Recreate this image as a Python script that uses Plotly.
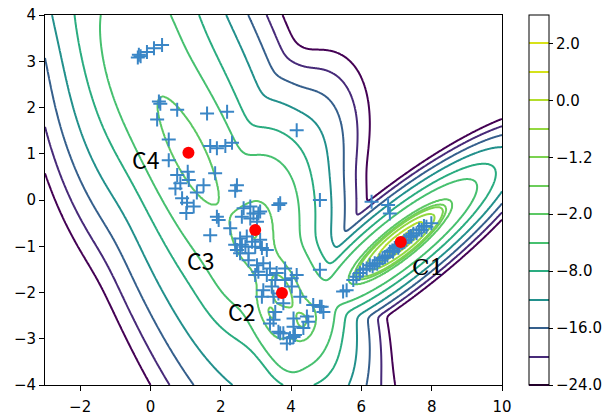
import numpy as np
import plotly.graph_objects as go

# ---- cluster centres (red dots) and labels ----
center_names = ["C1", "C2", "C3", "C4"]
center_x = [7.12, 3.74, 2.98, 1.08]
center_y = [-0.91, -2.01, -0.65, 1.02]
label_x = [7.89, 2.60, 1.42, -0.13]
label_y = [-1.44, -2.41, -1.29, 0.89]

# ---- contour levels and colorbar ----
levels = [-24.0, -20.0, -16.0, -12.0, -8.0, -5.0, -2.0, -1.45, -1.2, -0.6, 0.0, 1.0, 2.0]
level_colors = ["#440154", "#482677", "#39568c", "#23898e", "#20a486", "#3dbc74",
                "#52c569", "#63cb5f", "#70cf57", "#80d34d", "#9bd93c", "#b8de29", "#d8e219"]
cbar_tickvals = [0, 2, 4, 6, 8, 10, 12]
cbar_ticktext = ["\u221224.0", "\u221216.0", "\u22128.0", "\u22122.0", "\u22121.2", "0.0", "2.0"]

# ---- contour crossings: x, y, level value, weight ----
crossings = [
    # bottom edge and the -8 trough
    (-0.06, -3.98, -24, 1), (0.55, -3.98, -20, 1), (1.30, -3.98, -16, 1), (2.70, -3.98, -12, 1),
    (5.70, -3.98, -12, 1), (6.20, -3.98, -16, 1), (6.57, -3.98, -20, 1), (6.90, -3.98, -24, 1),
    (3.12, -3.46, -8, 1), (5.20, -3.46, -8, 1), (4.50, -3.95, -8, 1),
    # left band of lines
    (-2.93, 0.36, -24, 1), (-1.54, -1.73, -24, 1), (-2.46, 0.43, -20, 1), (0.52, -3.96, -20, 1),
    (-0.97, -1.77, -20, 1), (-1.99, 0.43, -16, 1), (1.28, -3.96, -16, 1), (-0.36, -1.77, -16, 1),
    (-1.37, 0.43, -12, 1), (2.65, -3.96, -12, 1), (0.64, -1.77, -12, 1),
    (-0.62, 0.43, -8, 1), (0.85, -2.45, -8, 1), (2.55, -3.60, -8, 1),
    (0.62, 0.43, -5, 1), (1.42, -0.94, -5, 1), (2.36, -1.95, -5, 1), (2.93, -2.74, -5, 1), (3.50, -3.46, -5, 1),
    (-1.50, 3.98, -5, 0.6), (-1.22, 2.66, -5, 0.6), (-0.48, 1.36, -5, 0.6), (-2.47, 3.98, -8, 0.6),
    (-2.98, 0.55, -24, 1.5), (-2.98, 1.55, -20, 1.2), (-2.98, 2.90, -16, 1.0), (-2.98, 3.90, -12, 0.4),
    # top edge
    (3.77, 3.98, -24, 0.6), (3.35, 3.98, -20, 0.6), (2.84, 3.98, -16, 0.6), (2.07, 3.98, -12, 0.6),
    (1.33, 3.98, -8, 0.6),
    # V between the band and C1
    (6.22, 0.25, -24, 1), (6.20, 1.00, -24, 0.8), (6.15, 2.31, -24, 0.8), (5.87, 2.87, -24, 0.8),
    (4.26, 3.18, -24, 0.8), (5.87, 1.00, -20, 0.8), (5.44, 1.00, -16, 0.8), (4.90, 1.00, -12, 0.8),
    (4.26, 1.00, -8, 0.8), (3.77, 1.00, -5, 0.8),
    (5.67, -0.22, -20, 0.7), (5.34, -0.65, -16, 0.7), (5.10, -1.00, -12, 0.7), (8.10, 1.00, -24, 0.5),
    # right edge and lower right
    (9.98, 1.77, -24, 0.8), (9.98, 1.56, -20, 0.8), (9.98, 1.36, -16, 0.8), (9.98, 1.08, -12, 0.8),
    (9.98, 0.71, -8, 0.8), (9.98, 0.37, -8, 0.5), (9.98, 0.15, -12, 0.4), (9.98, -0.05, -16, 0.4),
    (9.98, -0.20, -20, 0.4), (9.98, -0.35, -24, 0.4),
    (6.80, -2.75, -24, 0.8), (6.45, -2.80, -20, 0.7), (6.19, -2.72, -16, 0.7), (5.96, -2.45, -12, 0.7),
    # the -2 outline around C4, C3 and C2
    (3.69, 0.36, -2, 1), (3.12, 0.43, -2, 1), (2.55, 0.14, -2, 1), (2.27, 0.04, -2, 1), (3.83, 0.07, -2, 1),
    (3.78, -0.43, -2, 1), (3.97, -1.01, -2, 1), (4.26, -1.51, -2, 1), (4.63, -2.16, -2, 1), (4.73, -2.59, -2, 1),
    (4.63, -3.03, -2, 1), (4.26, -3.17, -2, 1), (3.78, -3.10, -2, 1), (3.40, -2.96, -2, 1), (3.12, -2.59, -2, 1),
    (2.93, -2.16, -2, 1), (2.55, -1.66, -2, 1), (2.13, -1.37, -2, 1), (1.89, -0.72, -2, 1), (1.23, -0.25, -2, 1),
    (0.66, 0.43, -2, 1), (0.38, 1.01, -2, 1), (0.14, 1.73, -2, 1), (0.14, 2.23, -2, 1), (0.38, 2.41, -2, 1),
    (0.94, 2.23, -2, 1), (1.42, 1.73, -2, 1), (1.89, 0.79, -2, 1),
    # peaks and inner rings
    (1.08, 1.02, -1.62, 1.5), (2.98, -0.65, -1.62, 1.0), (3.74, -2.01, -1.32, 1.5),
    (4.07, -2.43, -1.45, 1), (3.41, -1.57, -1.45, 1), (3.94, -1.85, -1.45, 1), (3.54, -2.15, -1.45, 1),
    (8.69, 0.07, -2, 1), (5.55, -1.89, -2, 1), (6.88, -0.52, -2, 1), (7.36, -1.30, -2, 1),
    (7.71, -0.54, 0, 0.6), (6.53, -1.28, 0, 0.6), (7.06, -0.81, 0, 0.6), (7.18, -1.01, 0, 0.6),
    (7.12, -0.91, 2.4, 1),
]
tgt_x = [c[0] for c in crossings]
tgt_y = [c[1] for c in crossings]
tgt_level = [c[2] for c in crossings]
tgt_w = [c[3] for c in crossings]

# ---- starting mixture components (x, y, angle, sigma1, sigma2, peak) ----
comp_mx = [1.08, 1.08, -0.10, 2.98, 3.74, 3.60, 7.12, 7.12, 3.90, 5.20]
comp_my = [1.02, 1.02, 3.40, -0.65, -2.01, 0.60, -0.91, -0.91, -2.30, -2.60]
comp_angle = [-55.0, -54.0, 10.0, -70.0, -58.0, 80.0, 31.0, 28.0, -55.0, 60.0]
comp_s1 = [1.76, 1.60, 0.95, 0.90, 0.80, 0.90, 0.25, 1.25, 1.00, 0.60]
comp_s2 = [0.57, 0.50, 0.60, 0.50, 0.45, 0.50, 0.06, 0.28, 0.55, 0.40]
comp_peak = [-4.2, -1.6, -3.8, -2.0, -1.35, -5.5, 2.3, -0.9, -3.5, -6.0]
comp_pos_weight = [0.3, 5, 0.3, 5, 5, 0.3, 5, 5, 0.3, 0.3]

lv = np.array(levels, dtype=float)
lidx = np.arange(len(lv), dtype=float)


def to_index(z):
    zi = np.interp(z, lv, lidx)
    zi = np.where(z < lv[0], (z - lv[0]) / (lv[1] - lv[0]), zi)
    zi = np.where(z > lv[-1], lidx[-1] + (z - lv[-1]) / (lv[-1] - lv[-2]), zi)
    return zi


def surface(P, x, y):
    mx, my, ang, ls1, ls2, pk = [P[:, k][:, None] for k in range(6)]
    dx, dy = x[None, :] - mx, y[None, :] - my
    c, s = np.cos(ang), np.sin(ang)
    t = dx * c + dy * s
    n = -dx * s + dy * c
    terms = pk - 0.5 * ((t / np.exp(ls1)) ** 2 + (n / np.exp(ls2)) ** 2)
    m = terms.max(axis=0)
    return m + np.log(np.exp(terms - m).sum(axis=0))


K = len(comp_mx)
theta0 = np.column_stack([comp_mx, comp_my, np.deg2rad(comp_angle), np.log(comp_s1),
                          np.log(comp_s2), comp_peak]).ravel()
pw = np.column_stack([comp_pos_weight, comp_pos_weight, [0.6] * K, [0.4] * K, [0.4] * K,
                      [0.15] * K]).ravel()
tx, ty = np.array(tgt_x), np.array(tgt_y)
tix = to_index(np.array(tgt_level, dtype=float))
tw = np.array(tgt_w, dtype=float)


def residual(theta):
    z = surface(theta.reshape(K, 6), tx, ty)
    return np.concatenate([(to_index(z) - tix) * tw, (theta - theta0) * pw])


theta = theta0.copy()
r = residual(theta)
cost = r @ r
lam = 1e-2
for it in range(200):
    J = np.empty((r.size, theta.size))
    for j in range(theta.size):
        th2 = theta.copy()
        th2[j] += 1e-5
        J[:, j] = (residual(th2) - r) / 1e-5
    g = J.T @ r
    H = J.T @ J
    ok = False
    while lam < 1e9:
        step = np.linalg.solve(H + lam * np.diag(np.diag(H) + 1e-9), -g)
        rn = residual(theta + step)
        cn = rn @ rn
        if cn < cost:
            theta, r, cost = theta + step, rn, cn
            lam = max(lam / 3, 1e-7)
            ok = True
            break
        lam *= 4
    if not ok:
        break
params = theta.reshape(K, 6)

# ---- observations ----
pts_x = [-0.36, -0.33, -0.28, -0.10, 0.10, 0.33,
         0.24, 0.28, 0.76, 0.19, 1.61, 2.18, 4.16, 0.52, 1.70, 1.89, 2.13, 2.32, 0.52, 1.84,
         0.76, 1.06, 1.09, 0.85, 0.71, 1.51, 1.32, 2.46, 2.41, 0.90, 1.04, 3.69, 1.02, 2.65,
         2.93, 3.12, 1.89, 4.82, 6.29, 6.76, 6.81, 1.23, 1.94, 2.27, 1.70, 2.84, 3.07, 2.60,
         2.84, 3.03, 3.64,
         2.55, 2.74, 2.60, 2.46, 2.70, 2.89, 3.12, 2.98, 3.17, 3.31, 2.79, 2.55, 2.41,
         2.79, 3.03, 3.21, 3.40, 3.07, 2.98, 3.31, 3.59, 3.83, 3.55, 3.83, 4.02, 4.16, 4.26,
         4.02, 3.21, 3.45, 3.64, 3.17, 3.50, 3.78, 4.63, 4.82, 4.92, 4.45, 4.49, 4.35, 4.07,
         3.78, 3.97, 4.11, 3.64, 3.50, 4.07, 3.55, 3.40, 3.69, 3.88, 4.07,
         4.82, 5.48, 5.58, 4.87,
         5.77, 5.86, 5.96, 6.05, 6.15, 6.24, 6.38, 6.52, 6.67, 6.81, 6.95, 7.09, 7.28, 7.42,
         7.57, 7.71, 7.85, 7.99, 6.45, 6.60, 6.74, 6.88, 7.02, 7.16, 7.22, 7.35, 7.48, 7.64,
         7.78, 6.32, 6.90, 7.05, 7.40]
pts_y = [3.08, 3.14, 3.11, 3.20, 3.28, 3.35,
         2.13, 2.08, 1.95, 1.74, 1.87, 1.91, 1.51, 1.31, 1.17, 1.12, 1.17, 1.24, 0.86, 0.58,
         0.54, 0.61, 0.43, 0.36, 0.25, 0.32, 0.16, 0.32, 0.20, 0.04, -0.06, -0.07, -0.28, -0.18,
         -0.29, -0.25, -0.36, 0.00, -0.04, -0.11, -0.29, -0.14, -0.43, -0.61, -0.76, -0.14, -0.29, -0.36,
         -0.40, -0.47, -0.11,
         -0.83, -0.79, -0.97, -1.08, -1.01, -0.90, -0.86, -1.01, -1.04, -1.08, -1.15, -1.15, -0.97,
         -1.30, -1.41, -1.37, -1.48, -1.55, -1.62, -1.62, -1.58, -1.48, -1.73, -1.73, -1.69, -1.62, -2.09,
         -1.87, -1.95, -1.87, -2.02, -2.09, -2.09, -2.23, -2.27, -2.31, -2.42, -2.52, -2.63, -2.77, -2.74,
         -2.88, -2.99, -2.92, -2.85, -2.59, -2.56, -2.42, -2.67, -2.88, -3.10, -2.96,
         -1.51, -1.98, -1.95, -2.31,
         -1.73, -1.66, -1.58, -1.51, -1.48, -1.41, -1.37, -1.30, -1.23, -1.12, -1.04, -0.97, -0.86, -0.79,
         -0.72, -0.65, -0.58, -0.50, -1.38, -1.26, -1.20, -1.09, -1.00, -0.93, -0.88, -0.80, -0.73, -0.64,
         -0.56, -1.43, -1.12, -1.03, -0.78]

# ---- surface on grid ----
xs = np.linspace(-3, 10, 651)
ys = np.linspace(-4, 4, 401)
X, Y = np.meshgrid(xs, ys)
Z = surface(params, X.ravel(), Y.ravel()).reshape(X.shape)
ZI = to_index(Z)

nlev = len(lv)
cscale = [[i / nlev, c] for i, c in enumerate(level_colors)] + [[1.0, level_colors[-1]]]

fig = go.Figure()
fig.add_trace(go.Contour(
    x=xs, y=ys, z=ZI,
    contours=dict(start=0, end=nlev - 1, size=1, coloring="lines", showlabels=False),
    line=dict(width=2),
    colorscale=cscale, zmin=0, zmax=nlev, zauto=False,
    colorbar=dict(
        thickness=20, thicknessmode="pixels", len=1, lenmode="fraction",
        x=1.059, xanchor="left", y=0.5, yanchor="middle", xpad=0, ypad=0,
        outlinecolor="black", outlinewidth=1,
        tickmode="array", tickvals=cbar_tickvals, ticktext=cbar_ticktext,
        ticks="outside", ticklen=4, tickwidth=1, tickcolor="black",
        tickfont=dict(family="DejaVu Sans", size=15, color="black"),
    ),
    hoverinfo="skip",
))
fig.add_trace(go.Scatter(
    x=pts_x, y=pts_y, mode="markers",
    marker=dict(symbol="cross-thin", size=10, line=dict(width=2, color="#3a86c6")),
    showlegend=False, hoverinfo="skip",
))
fig.add_trace(go.Scatter(
    x=center_x, y=center_y, mode="markers",
    marker=dict(symbol="circle", size=12, color="#ff0000"),
    showlegend=False, hoverinfo="skip",
))
for i, name in enumerate(center_names):
    fam = "DejaVu Serif" if name == "C1" else "Noto Sans CJK SC"
    fig.add_annotation(x=label_x[i], y=label_y[i], text=name, showarrow=False,
                       font=dict(family=fam, size=23, color="black"),
                       xanchor="center", yanchor="middle")

axis_common = dict(showgrid=False, zeroline=False, showline=True, mirror=True,
                   linecolor="black", linewidth=1, ticks="outside", ticklen=5,
                   tickcolor="black", ticklabeloverflow="allow",
                   tickfont=dict(family="DejaVu Sans", size=15, color="black"))
fig.update_xaxes(range=[-3, 10], tickvals=[-2, 0, 2, 4, 6, 8, 10], ticklabelstandoff=3,
                 ticktext=["\u22122", "0", "2", "4", "6", "8", "10"], **axis_common)
fig.update_yaxes(range=[-4, 4], tickvals=[-4, -3, -2, -1, 0, 1, 2, 3, 4],
                 ticktext=["\u22124", "\u22123", "\u22122", "\u22121", "0", "1", "2", "3", "4"], **axis_common)
fig.update_layout(width=612, height=416, margin=dict(l=45, r=110, t=15, b=31, autoexpand=False),
                  plot_bgcolor="white", paper_bgcolor="white", showlegend=False)
# remove the browser's default 8px page margin so the figure fills the window exactly
fig.write_html("out.html", config={"displayModeBar": False},
               post_script="document.body.style.margin='0px';")
